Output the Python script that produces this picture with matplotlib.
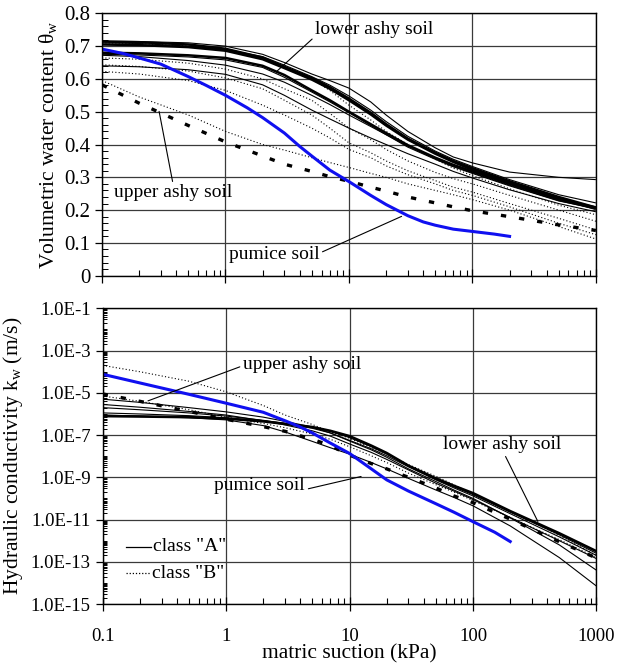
import numpy as np
import matplotlib
matplotlib.use("Agg")
import matplotlib.pyplot as plt
from matplotlib.ticker import LogLocator, MultipleLocator, FixedLocator, NullFormatter

plt.rcParams['font.family'] = ['Liberation Serif', 'DejaVu Serif']
plt.rcParams['mathtext.fontset'] = 'custom'
plt.rcParams['mathtext.rm'] = 'Liberation Serif'
plt.rcParams['mathtext.it'] = 'Liberation Serif'

# matric suction grid (kPa)
suction = [0.1, 0.2, 0.5, 1, 2, 3, 5, 7, 10, 15, 20, 30, 50, 70, 100, 200, 500, 1000]

# ---- water retention: class "A" (lower ashy soil), solid
theta_A = [
    [0.715, 0.714, 0.710, 0.700, 0.675, 0.650, 0.615, 0.595, 0.572, 0.530, 0.490, 0.440, 0.390, 0.362, 0.344, 0.316, 0.300, 0.293],
    [0.714, 0.712, 0.705, 0.692, 0.665, 0.637, 0.603, 0.575, 0.540, 0.497, 0.462, 0.418, 0.375, 0.350, 0.328, 0.288, 0.240, 0.208],
    [0.705, 0.703, 0.697, 0.686, 0.660, 0.633, 0.598, 0.570, 0.535, 0.492, 0.458, 0.415, 0.372, 0.347, 0.323, 0.283, 0.236, 0.204],
    [0.710, 0.708, 0.700, 0.690, 0.668, 0.642, 0.607, 0.581, 0.548, 0.505, 0.470, 0.425, 0.380, 0.355, 0.333, 0.293, 0.247, 0.222],
    [0.680, 0.678, 0.672, 0.664, 0.640, 0.612, 0.565, 0.535, 0.500, 0.462, 0.435, 0.398, 0.360, 0.338, 0.318, 0.280, 0.233, 0.208],
    [0.675, 0.673, 0.667, 0.658, 0.635, 0.605, 0.560, 0.530, 0.497, 0.458, 0.430, 0.392, 0.355, 0.332, 0.312, 0.274, 0.228, 0.205],
    [0.672, 0.668, 0.656, 0.642, 0.615, 0.590, 0.550, 0.522, 0.490, 0.455, 0.430, 0.395, 0.357, 0.334, 0.314, 0.276, 0.229, 0.203],
    [0.640, 0.637, 0.628, 0.614, 0.582, 0.550, 0.505, 0.478, 0.450, 0.420, 0.400, 0.372, 0.340, 0.318, 0.298, 0.262, 0.220, 0.195],
]
theta_A_width = [0.8, 1.8, 1.8, 0.8, 1.8, 0.8, 0.8, 0.8]

# ---- water retention: class "B", dotted
theta_B = [
    [0.710, 0.708, 0.700, 0.688, 0.665, 0.638, 0.600, 0.565, 0.520, 0.475, 0.440, 0.400, 0.355, 0.328, 0.305, 0.265, 0.215, 0.186],
    [0.664, 0.660, 0.648, 0.630, 0.600, 0.570, 0.535, 0.495, 0.450, 0.415, 0.385, 0.350, 0.315, 0.296, 0.280, 0.245, 0.200, 0.166],
    [0.643, 0.638, 0.624, 0.603, 0.570, 0.535, 0.490, 0.450, 0.405, 0.375, 0.350, 0.320, 0.290, 0.270, 0.255, 0.220, 0.175, 0.140],
    [0.623, 0.615, 0.595, 0.565, 0.520, 0.490, 0.450, 0.420, 0.385, 0.360, 0.335, 0.308, 0.280, 0.260, 0.245, 0.210, 0.160, 0.125],
    [0.595, 0.545, 0.490, 0.440, 0.400, 0.383, 0.360, 0.345, 0.330, 0.312, 0.300, 0.280, 0.260, 0.247, 0.232, 0.200, 0.150, 0.112],
]

# ---- upper ashy soil (heavy dashed)
theta_upper = [0.582, 0.526, 0.458, 0.408, 0.365, 0.340, 0.318, 0.302, 0.288, 0.270, 0.258, 0.240, 0.222, 0.210, 0.198, 0.180, 0.155, 0.138]

# ---- pumice soil (blue)
suction_pumice = [0.1, 0.15, 0.2, 0.3, 0.5, 0.7, 1, 1.5, 2, 3, 4, 5, 7, 10, 15, 20, 30, 40, 50, 70, 100, 150, 200]
theta_pumice = [0.691, 0.677, 0.664, 0.645, 0.607, 0.580, 0.550, 0.512, 0.482, 0.435, 0.394, 0.365, 0.322, 0.287,
                0.245, 0.217, 0.183, 0.164, 0.154, 0.142, 0.135, 0.127, 0.120]

# ---- hydraulic conductivity, log10(k) in m/s
logk_A = [
    [-6.10, -6.12, -6.15, -6.22, -6.35, -6.47, -6.62, -6.80, -7.05, -7.50, -7.85, -8.45, -9.05, -9.40, -9.75, -10.60, -11.65, -12.50],
    [-5.95, -6.00, -6.08, -6.18, -6.33, -6.45, -6.62, -6.82, -7.12, -7.55, -7.90, -8.45, -9.10, -9.45, -9.82, -10.65, -11.72, -12.60],
    [-5.70, -5.80, -5.95, -6.10, -6.30, -6.45, -6.68, -6.90, -7.25, -7.65, -7.98, -8.50, -9.12, -9.50, -9.88, -10.72, -11.82, -12.70],
    [-5.55, -5.68, -5.88, -6.05, -6.32, -6.52, -6.80, -7.05, -7.42, -7.82, -8.15, -8.65, -9.28, -9.65, -10.05, -10.90, -12.00, -12.85],
    [-5.30, -5.45, -5.70, -5.90, -6.15, -6.35, -6.62, -6.90, -7.28, -7.70, -8.05, -8.60, -9.20, -9.60, -10.00, -10.92, -12.20, -13.40],
    [-6.05, -6.10, -6.18, -6.28, -6.55, -6.85, -7.30, -7.60, -7.90, -8.30, -8.60, -9.05, -9.60, -9.95, -10.35, -11.30, -12.80, -14.15],
]
logk_A_width = [1.9, 0.8, 0.8, 0.8, 0.8, 0.8]

logk_B = [
    [-3.70, -4.00, -4.45, -4.95, -5.60, -6.05, -6.50, -6.85, -7.15, -7.60, -7.90, -8.40, -8.95, -9.35, -9.80, -10.60, -11.75, -12.70],
    [-5.15, -5.40, -5.80, -6.15, -6.45, -6.65, -6.95, -7.20, -7.55, -7.98, -8.30, -8.80, -9.35, -9.70, -10.10, -10.90, -11.95, -12.80],
]

logk_upper = [-5.05, -5.40, -5.88, -6.25, -6.60, -6.82, -7.20, -7.50, -7.95, -8.35, -8.60, -9.00, -9.50, -9.88, -10.20, -10.98, -12.05, -12.82]

suction_k_pumice = [0.1, 0.2, 0.5, 1, 2, 3, 4, 5, 7, 10, 15, 20, 30, 50, 70, 100, 150, 200]
logk_pumice = [-4.12, -4.53, -5.07, -5.49, -5.92, -6.32, -6.62, -6.90, -7.38, -7.87, -8.60, -9.12, -9.65, -10.25, -10.65, -11.10, -11.60, -12.04]

theta_ticks = [0, 0.1, 0.2, 0.3, 0.4, 0.5, 0.6, 0.7, 0.8]
k_ticks = [1e-1, 1e-3, 1e-5, 1e-7, 1e-9, 1e-11, 1e-13, 1e-15]
k_tick_labels = ["1.0E-1", "1.0E-3", "1.0E-5", "1.0E-7", "1.0E-9", "1.0E-11", "1.0E-13", "1.0E-15"]
x_ticks = [0.1, 1, 10, 100, 1000]
x_tick_labels = ["0.1", "1", "10", "100", "1000"]

BLUE = "#1010f0"
GRID = "#3a3a3a"
DASH_HEAVY = (0, (1.6, 3.9))

fig = plt.figure(figsize=(6.22, 6.66), dpi=100)
ax1 = fig.add_axes([0.164, 0.586, 0.794, 0.394])
ax2 = fig.add_axes([0.165, 0.093, 0.794, 0.444])


def style_axis(ax):
    ax.set_xscale("log")
    ax.set_xlim(0.1, 1000)
    ax.xaxis.set_major_locator(FixedLocator(x_ticks))
    ax.xaxis.set_minor_locator(LogLocator(base=10, subs=np.arange(2, 10), numticks=20))
    ax.xaxis.set_minor_formatter(NullFormatter())
    ax.tick_params(axis="x", which="major", direction="inout", length=10, width=0.9)
    ax.tick_params(axis="x", which="minor", direction="in", length=4, width=0.8)
    ax.tick_params(axis="y", which="major", direction="out", length=5, width=0.9)
    ax.tick_params(axis="y", which="minor", direction="in", length=4, width=0.7)
    ax.grid(True, which="major", color=GRID, lw=0.9)
    for s in ax.spines.values():
        s.set_linewidth(1.0)
        s.set_color("black")
    ax.set_axisbelow(True)


# ---------------- top panel: water content ----------------
style_axis(ax1)
ax1.set_ylim(0, 0.8)
ax1.yaxis.set_major_locator(FixedLocator(theta_ticks))
ax1.yaxis.set_minor_locator(MultipleLocator(0.02))
ax1.set_yticklabels([f"{t:g}" for t in theta_ticks], fontsize=15)
ax1.tick_params(axis="x", labelbottom=False)

for vals, lw in zip(theta_A, theta_A_width):
    ax1.plot(suction, vals, color="black", lw=lw, solid_capstyle="butt")
for vals in theta_B:
    ax1.plot(suction, vals, color="black", lw=0.8, ls=(0, (1, 2)))
ax1.plot(suction, theta_upper, color="black", lw=2.4, ls=DASH_HEAVY)
ax1.plot(suction_pumice, theta_pumice, color=BLUE, lw=2.2)

ax1.set_ylabel(r"Volumetric water content θ$_{\rm w}$", fontsize=15.5, labelpad=4)

ax1.annotate("lower ashy soil", xy=(2.6, 0.623), xytext=(5.3, 0.750),
             fontsize=14, va="center", ha="left",
             arrowprops=dict(arrowstyle="-", color="black", lw=0.8, shrinkA=0, shrinkB=0,
                             relpos=(0, 0.1)))
ax1.annotate("upper ashy soil", xy=(0.29, 0.501), xytext=(0.125, 0.253),
             fontsize=14, va="center", ha="left",
             arrowprops=dict(arrowstyle="-", color="black", lw=0.8, shrinkA=0, shrinkB=0,
                             relpos=(0.5, 1.0)))
ax1.annotate("pumice soil", xy=(26.7, 0.181), xytext=(1.07, 0.064),
             fontsize=14, va="center", ha="left",
             arrowprops=dict(arrowstyle="-", color="black", lw=0.8, shrinkA=0, shrinkB=0,
                             relpos=(1.0, 0.6)))

# ---------------- bottom panel: conductivity ----------------
style_axis(ax2)
ax2.set_yscale("log")
ax2.set_ylim(1e-15, 1e-1)
ax2.yaxis.set_major_locator(FixedLocator(k_ticks))
ax2.yaxis.set_minor_locator(LogLocator(base=10, subs=np.arange(1, 10), numticks=40))
ax2.yaxis.set_minor_formatter(NullFormatter())
ax2.set_yticklabels(k_tick_labels, fontsize=13.5)
ax2.set_xticklabels(x_tick_labels, fontsize=13.5)
ax2.tick_params(axis="x", which="major", pad=12)
ax2.tick_params(axis="y", which="minor", length=3)

for vals, lw in zip(logk_A, logk_A_width):
    ax2.plot(suction, np.power(10.0, vals), color="black", lw=lw)
for vals in logk_B:
    ax2.plot(suction, np.power(10.0, vals), color="black", lw=0.8, ls=(0, (1, 2)))
ax2.plot(suction, np.power(10.0, logk_upper), color="black", lw=2.4, ls=DASH_HEAVY)
ax2.plot(suction_k_pumice, np.power(10.0, logk_pumice), color=BLUE, lw=2.2)

ax2.set_ylabel(r"Hydraulic conductivity k$_{\rm w}$ (m/s)", fontsize=15.5, labelpad=4)
ax2.set_xlabel("matric suction (kPa)", fontsize=15.5, labelpad=0)

ax2.annotate("upper ashy soil", xy=(0.233, 10 ** -5.38), xytext=(1.36, 10 ** -3.68),
             fontsize=14, va="center", ha="left",
             arrowprops=dict(arrowstyle="-", color="black", lw=0.8, shrinkA=0, shrinkB=0,
                             relpos=(0, 0.45)))
ax2.annotate("pumice soil", xy=(12.4, 10 ** -8.96), xytext=(0.8, 10 ** -9.38),
             fontsize=14, va="center", ha="left",
             arrowprops=dict(arrowstyle="-", color="black", lw=0.8, shrinkA=0, shrinkB=0,
                             relpos=(1.04, 0.3)))
ax2.annotate("lower ashy soil", xy=(335, 10 ** -11.09), xytext=(57, 10 ** -7.45),
             fontsize=14, va="center", ha="left",
             arrowprops=dict(arrowstyle="-", color="black", lw=0.8, shrinkA=0, shrinkB=0,
                             relpos=(0.53, -0.2)))

# class legend
ax2.plot([0.047, 0.098], [0.194, 0.194], color="black", lw=0.9, transform=ax2.transAxes)
ax2.plot([0.047, 0.096], [0.104, 0.104], color="black", lw=0.9, ls=(0, (1, 1.5)),
         transform=ax2.transAxes)
ax2.text(0.101, 0.194, 'class "A"', transform=ax2.transAxes, fontsize=14, va="center", ha="left")
ax2.text(0.099, 0.104, 'class "B"', transform=ax2.transAxes, fontsize=14, va="center", ha="left")

fig.savefig("out.png", dpi=100)
